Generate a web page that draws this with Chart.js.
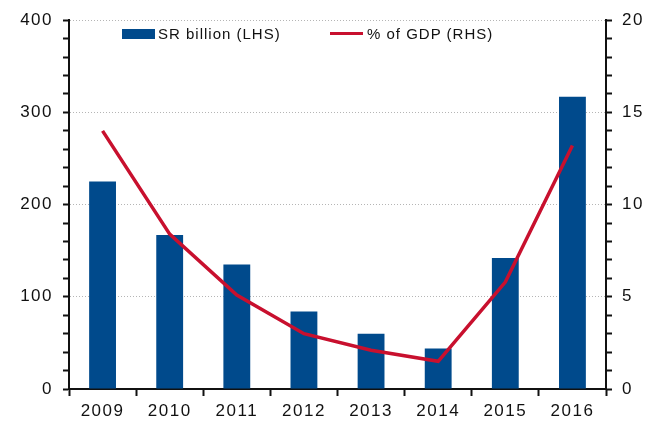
<!DOCTYPE html>
<html>
<head>
<meta charset="utf-8">
<script src="https://cdn.jsdelivr.net/npm/chart.js@4"></script>
<style>
  html, body { margin: 0; padding: 0; background: #fff; }
  #wrap { position: relative; width: 660px; height: 423px; }
  .legend { position: absolute; font: 15px "Liberation Sans", Arial, sans-serif; letter-spacing: 1px; color: #111; line-height: 15px; }
  .swatch { position: absolute; }
</style>
</head>
<body>
<div id="wrap">
  <canvas id="deficitChart" width="660" height="423"></canvas>
  <div class="swatch" style="left:122px; top:29px; width:33px; height:10px; background:#004A8C;"></div>
  <div class="legend" style="left:158px; top:26px;">SR billion (LHS)</div>
  <div class="swatch" style="left:330px; top:32px; width:33px; height:3px; background:#C8102E;"></div>
  <div class="legend" style="left:367px; top:26px;">% of GDP (RHS)</div>
</div>
<script>
const years = ["2009", "2010", "2011", "2012", "2013", "2014", "2015", "2016"];
const srBillion = [225, 167, 135, 84, 60, 44, 142, 317];
const pctOfGdp = [14.0, 8.4, 5.1, 3.0, 2.1, 1.5, 5.8, 13.2];

const spacing = {
    id: "spacing",
    beforeLayout(chart) { chart.ctx.letterSpacing = "1.5px"; },
    beforeDraw(chart) { chart.ctx.letterSpacing = "1.5px"; }
};

Chart.defaults.font.family = '"Liberation Sans", Arial, sans-serif';
Chart.defaults.font.size = 17;
Chart.defaults.color = "#111";

const ctx = document.getElementById("deficitChart").getContext("2d");
new Chart(ctx, {
    data: {
        labels: years,
        datasets: [{
            type: "line",
            label: "% of GDP (RHS)",
            data: pctOfGdp,
            yAxisID: "y2",
            borderColor: "#C8102E",
            borderWidth: 3.5,
            pointRadius: 0,
            tension: 0,
            order: 1
        }, {
            type: "bar",
            label: "SR billion (LHS)",
            data: srBillion,
            yAxisID: "y",
            backgroundColor: "#004A8C",
            categoryPercentage: 1,
            barPercentage: 0.4,
            order: 2
        }]
    },
    options: {
        responsive: false,
        animation: false,
        layout: { padding: { top: 16, right: 0, bottom: 0, left: 0 } },
        plugins: { legend: { display: false }, tooltip: { enabled: false } },
        scales: {
            x: {
                grid: { drawOnChartArea: false, tickLength: 7, tickWidth: 2, tickColor: "#111", offset: true },
                border: { color: "#111", width: 2 },
                ticks: { padding: 5 },
                afterFit(scale) { scale.height = 34; }
            },
            y: {
                position: "left",
                min: 0,
                max: 400,
                ticks: {
                    stepSize: 20,
                    padding: 10,
                    autoSkip: false,
                    callback: v => (v % 100 === 0 ? v : "")
                },
                grid: {
                    color: c => (c.tick && c.tick.value % 100 === 0 && c.tick.value !== 0 ? "#b5b5b5" : "transparent"),
                    lineWidth: 1,
                    tickLength: 6,
                    tickWidth: 2,
                    tickColor: "#111"
                },
                border: { color: "#111", width: 2, dash: [1, 2] },
                afterFit(scale) { scale.width = 69; }
            },
            y2: {
                position: "right",
                min: 0,
                max: 20,
                ticks: {
                    stepSize: 1,
                    padding: 10,
                    autoSkip: false,
                    callback: v => (v % 5 === 0 ? v : "")
                },
                grid: { drawOnChartArea: false, tickLength: 6, tickWidth: 2, tickColor: "#111" },
                border: { color: "#111", width: 2 },
                afterFit(scale) { scale.width = 54; }
            }
        }
    },
    plugins: [spacing]
});
</script>
</body>
</html>
